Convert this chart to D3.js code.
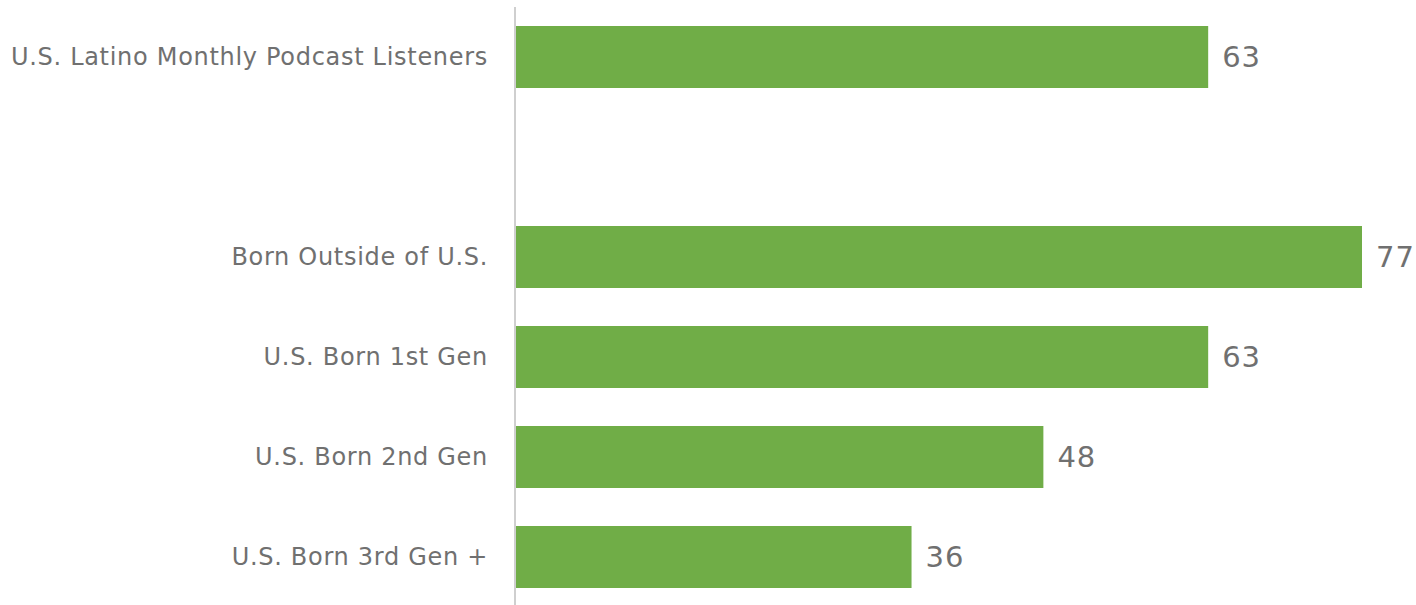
<!DOCTYPE html>
<html>
<head>
<meta charset="utf-8">
<script src="https://cdn.jsdelivr.net/npm/d3@7"></script>
<style>
  html, body { margin: 0; padding: 0; background: #fff; }
  svg { display: block; }
</style>
</head>
<body>
<svg id="chart" width="1416" height="605"></svg>
<script>
const categories = [
  "U.S. Latino Monthly Podcast Listeners",
  " ",
  "Born Outside of U.S.",
  "U.S. Born 1st Gen",
  "U.S. Born 2nd Gen",
  "U.S. Born 3rd Gen +"
];
const values = [63, null, 77, 63, 48, 36];

const axisX = 515;
const svg = d3.select("#chart");

const x = d3.scaleLinear().domain([0, 77]).range([axisX + 1, 1362]);
const y = d3.scaleBand().domain(categories).range([7, 607]).paddingInner(0.38).paddingOuter(0.19);

const data = categories.map((c, i) => ({ c, v: values[i] })).filter(d => d.v != null);

svg.append("g").selectAll("rect").data(data).join("rect")
  .attr("x", x(0))
  .attr("y", d => y(d.c))
  .attr("width", d => x(d.v) - x(0))
  .attr("height", y.bandwidth())
  .attr("fill", "#70AD47");

const axis = svg.append("g")
  .attr("transform", `translate(${axisX},0)`)
  .call(d3.axisLeft(y).tickSize(0).tickPadding(27));
axis.select(".domain").attr("stroke", "#cfcfcf").attr("stroke-width", 2)
  .attr("d", `M0,7V605`);
axis.selectAll("text")
  .attr("font-family", "'DejaVu Sans', sans-serif")
  .attr("font-size", 24)
  .attr("letter-spacing", "0.7px")
  .attr("fill", "#707070");

svg.append("g").selectAll("text").data(data).join("text")
  .attr("x", d => x(d.v) + 14)
  .attr("y", d => y(d.c) + y.bandwidth() / 2)
  .attr("dy", "0.36em")
  .attr("font-family", "'DejaVu Sans', sans-serif")
  .attr("font-size", 29)
  .attr("letter-spacing", "1px")
  .attr("fill", "#707070")
  .text(d => d.v);
</script>
</body>
</html>
